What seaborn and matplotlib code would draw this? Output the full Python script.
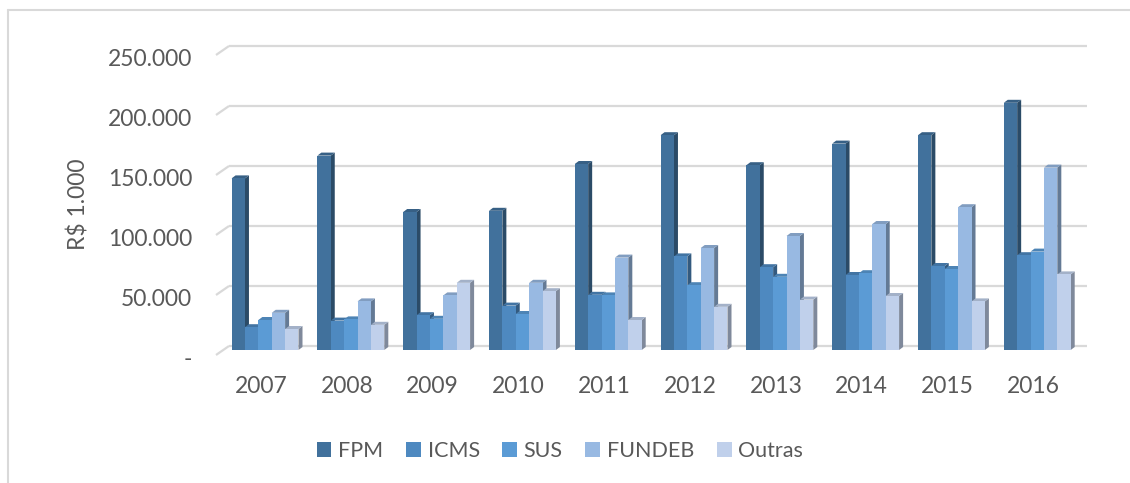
import numpy as np
import pandas as pd
import seaborn as sns
import matplotlib
matplotlib.use("Agg")
import matplotlib.pyplot as plt
import matplotlib.transforms as mtransforms
from matplotlib.patches import Polygon
from matplotlib.lines import Line2D
from matplotlib.colors import to_rgb

# ---- data ----
years = ["2007", "2008", "2009", "2010", "2011", "2012", "2013", "2014", "2015", "2016"]
series = ["FPM", "ICMS", "SUS", "FUNDEB", "Outras"]
fpm = [143000, 162000, 115000, 116000, 155000, 179000, 154000, 172000, 179000, 206000]
icms = [19000, 24500, 29000, 37000, 46000, 78000, 69000, 62500, 70000, 79000]
sus = [25000, 25500, 26000, 30000, 45500, 54000, 61000, 64000, 67500, 82000]
fundeb = [31000, 40500, 45500, 56000, 77000, 85000, 95000, 105000, 119000, 152000]
outras = [17500, 21000, 56000, 49000, 25000, 36000, 42000, 45000, 40500, 63000]
yticks = [0, 50000, 100000, 150000, 200000, 250000]
ytick_labels = ["-", "50.000", "100.000", "150.000", "200.000", "250.000"]
ylabel = "R$ 1.000"

colors = ["#41719C", "#4E89C0", "#5B9BD5", "#98B9E2", "#C0D0EB"]

values = [fpm, icms, sus, fundeb, outras]
df = pd.DataFrame({
    "Ano": [y for s in series for y in years],
    "Fonte": [s for s in series for _ in years],
    "Valor": [v for vals in values for v in vals],
})

sns.set_theme(style="white")
plt.rcParams["font.family"] = ["Lato", "DejaVu Sans"]
TXT = "#595959"
GRID = "#D9D9D9"

W, H = 1130, 483
fig = plt.figure(figsize=(W / 100, H / 100), dpi=100)
ax = fig.add_axes([229 / W, (H - 350) / H, 858 / W, 300 / H])

sns.barplot(data=df, x="Ano", y="Valor", hue="Fonte", palette=colors,
            width=0.78, gap=0, dodge=True, saturation=1, errorbar=None,
            linewidth=0, edgecolor="none", ax=ax)

ax.set_xlim(-0.42, 9.58)
ax.set_ylim(0, 250000)
for s in ax.spines.values():
    s.set_visible(False)
ax.set_xlabel("")
ax.set_ylabel("")

# 3D-like side and top faces derived from the drawn bars
px_x = 10.0 / 858  # data units per pixel in x
px_y = 250000 / 300  # data units per pixel in y
dx, dy = 4 * px_x, 3 * px_y
for k, cont in enumerate(ax.containers):
    base = np.array(to_rgb(colors[k]))
    side_c = base * 0.66
    top_c = base * 0.85
    for rect in cont:
        x, w, h = rect.get_x(), rect.get_width(), rect.get_height()
        rect.set_zorder(2 + k * 0.1 + 0.05)
        ax.add_patch(Polygon([(x + w, 0), (x + w + dx, dy), (x + w + dx, h + dy), (x + w, h)],
                             closed=True, facecolor=side_c, edgecolor="none",
                             zorder=2 + k * 0.1 + 0.02))
        ax.add_patch(Polygon([(x, h), (x + w, h), (x + w + dx, h + dy), (x + dx, h + dy)],
                             closed=True, facecolor=top_c, edgecolor="none",
                             zorder=2 + k * 0.1 + 0.02))

# back-wall gridlines with slanted left end
blend = mtransforms.blended_transform_factory(ax.transAxes, ax.transData)
off = 4 * px_y
for v in yticks:
    ax.plot([0, 1], [v + off, v + off], transform=blend, color=GRID, lw=1.6,
            zorder=0.5, clip_on=False, solid_capstyle="butt")
    ax.plot([-13 / 858, 0], [v + off - 9 * px_y, v + off], transform=blend, color=GRID,
            lw=1.6, zorder=0.5, clip_on=False, solid_capstyle="butt")

ax.set_yticks(yticks)
ax.set_yticklabels(ytick_labels)
ax.tick_params(axis="y", length=0, pad=26.5, labelsize=16.5, labelcolor=TXT)
ax.tick_params(axis="x", length=0, pad=19, labelsize=16.5, labelcolor=TXT)
for lbl in ax.get_yticklabels():
    lbl.set_transform(lbl.get_transform() + mtransforms.ScaledTranslation(0, -7 / 100, fig.dpi_scale_trans))
for lbl in ax.get_xticklabels():
    lbl.set_transform(lbl.get_transform() + mtransforms.ScaledTranslation(-4 / 100, 0, fig.dpi_scale_trans))

fig.text(79 / W, 1 - 204 / H, ylabel, rotation=90, ha="center", va="center",
         fontsize=16.5, color=TXT)

handles, labels = ax.get_legend_handles_labels()
if ax.legend_ is not None:
    ax.legend_.remove()
fig.legend(handles, labels, loc="center", bbox_to_anchor=(560 / W, 1 - 451 / H), ncol=5,
           frameon=False, fontsize=15.5, handlelength=0.68, handleheight=0.68,
           handletextpad=0.32, columnspacing=1.05, labelcolor=TXT)

# outer frame (top and left edges visible)
fig.add_artist(Line2D([8 / W, 1], [1 - 10 / H, 1 - 10 / H], transform=fig.transFigure,
                      color=GRID, lw=1.5))
fig.add_artist(Line2D([8 / W, 8 / W], [0, 1 - 10 / H], transform=fig.transFigure,
                      color=GRID, lw=1.5))

fig.savefig("out.png", dpi=100)
